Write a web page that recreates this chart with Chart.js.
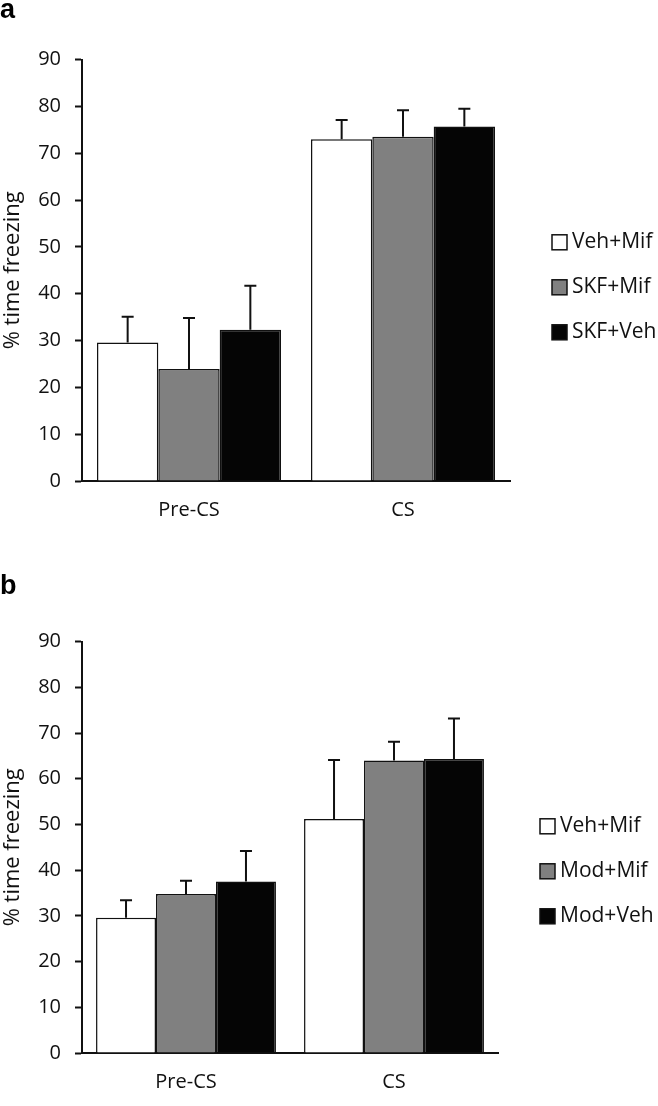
<!DOCTYPE html>
<html>
<head>
<meta charset="utf-8">
<script src="https://cdn.jsdelivr.net/npm/chart.js@4.4.1/dist/chart.umd.min.js"></script>
<style>
  body { margin: 0; background: #fff; }
  canvas { position: absolute; left: 0; }
  #chart-a { top: 0; }
  #chart-b { top: 553px; }
</style>
</head>
<body>
<canvas id="chart-a" width="658" height="521"></canvas>
<canvas id="chart-b" width="658" height="540"></canvas>
<script>
// data
const categories = ["Pre-CS", "CS"];

// panel a
const labelsA = ["Veh+Mif", "SKF+Mif", "SKF+Veh"];
const vehMifA = [29.6, 73.0];
const skfMifA = [23.9, 73.5];
const skfVehA = [32.3, 75.7];
const errVehMifA = [5.5, 4.1];
const errSkfMifA = [10.9, 5.7];
const errSkfVehA = [9.4, 3.8];

// panel b
const labelsB = ["Veh+Mif", "Mod+Mif", "Mod+Veh"];
const vehMifB = [29.6, 51.2];
const modMifB = [34.8, 64.0];
const modVehB = [37.5, 64.3];
const errVehMifB = [3.8, 12.9];
const errModMifB = [2.9, 4.1];
const errModVehB = [6.7, 8.9];

const yTicks = [0, 10, 20, 30, 40, 50, 60, 70, 80, 90];

const fills = ["#ffffff", "#808080", "#050505"];
const fontFam = "'Open Sans', sans-serif";

// upper error bars, drawn from the bar top
const errorBars = {
  id: "errorBars",
  afterDatasetsDraw(chart) {
    const ctx = chart.ctx;
    const yScale = chart.scales.y;
    ctx.save();
    ctx.strokeStyle = "#111";
    ctx.lineWidth = 2;
    chart.data.datasets.forEach((ds, i) => {
      const meta = chart.getDatasetMeta(i);
      meta.data.forEach((bar, j) => {
        const top = yScale.getPixelForValue(ds.data[j] + ds.errors[j]);
        ctx.beginPath();
        ctx.moveTo(bar.x, bar.y);
        ctx.lineTo(bar.x, top);
        ctx.moveTo(bar.x - 6, top);
        ctx.lineTo(bar.x + 6, top);
        ctx.stroke();
      });
    });
    ctx.restore();
  },
};

// legend at the right of the plot
const sideLegend = {
  id: "sideLegend",
  afterDraw(chart, args, opts) {
    const ctx = chart.ctx;
    const area = chart.chartArea;
    const x = area.right + opts.gap;
    const midY = (area.top + area.bottom) / 2 + opts.shift;
    const n = chart.data.datasets.length;
    ctx.save();
    ctx.font = "21px " + fontFam;
    ctx.textBaseline = "middle";
    ctx.fillStyle = "#111";
    chart.data.datasets.forEach((ds, i) => {
      const y = midY + (i - (n - 1) / 2) * 45;
      ctx.fillStyle = ds.backgroundColor;
      ctx.fillRect(x, y - 7.5, 15, 15);
      ctx.strokeStyle = "#111";
      ctx.lineWidth = 1.5;
      ctx.strokeRect(x, y - 7.5, 15, 15);
      ctx.fillStyle = "#111";
      ctx.fillText(ds.label, x + opts.textGap, y);
    });
    ctx.restore();
  },
};

function makeChart(id, letter, labels, values, errors, p) {
  const datasets = labels.map((lab, i) => ({
    label: lab,
    data: values[i],
    errors: errors[i],
    backgroundColor: fills[i],
    borderColor: "#111",
    borderWidth: 1.5,
    categoryPercentage: p.catPct,
    barPercentage: 1.0,
  }));

  const config = {
    type: "bar",
    data: { labels: categories, datasets: datasets },
    options: {
      responsive: false,
      animation: false,
      layout: { padding: { top: p.padTop, right: p.padRight, left: 0, bottom: 0 } },
      plugins: {
        legend: { display: false },
        tooltip: { enabled: false },
        title: {
          display: true,
          text: letter,
          align: "start",
          color: "#000",
          font: { family: "'Liberation Sans', Arial, sans-serif", size: 27, weight: "bold", lineHeight: 0.8 },
          padding: { top: 0, bottom: p.titleGap },
        },
        sideLegend: { gap: p.legendGap, textGap: 20, shift: p.legendShift },
      },
      scales: {
        x: {
          grid: { display: false, drawTicks: false },
          border: { color: "#111", width: 2 },
          ticks: { color: "#111", padding: 17, font: { family: fontFam, size: 20 } },
          afterFit: (scale) => { scale.height = 40; },
        },
        y: {
          min: 0,
          max: 90,
          afterBuildTicks: (scale) => { scale.ticks = yTicks.map((v) => ({ value: v })); },
          grid: { drawOnChartArea: false, tickLength: 7, tickWidth: 2, tickColor: "#111" },
          border: { color: "#111", width: 2 },
          ticks: { color: "#111", padding: 14, font: { family: fontFam, size: 20 } },
          title: {
            display: true,
            text: "% time freezing",
            color: "#111",
            font: { family: fontFam, size: 22 },
            padding: { top: 0, bottom: 0 },
          },
          afterFit: (scale) => { scale.width = 82; },
        },
      },
    },
    plugins: [errorBars, sideLegend],
  };
  return new Chart(document.getElementById(id), config);
}

makeChart("chart-a", "a", labelsA,
  [vehMifA, skfMifA, skfVehA],
  [errVehMifA, errSkfMifA, errSkfVehA],
  { catPct: 0.86, padTop: 0, padRight: 148, titleGap: 38, legendGap: 42, legendShift: 17 });

makeChart("chart-b", "b", labelsB,
  [vehMifB, modMifB, modVehB],
  [errVehMifB, errModMifB, errModVehB],
  { catPct: 0.865, padTop: 23, padRight: 160, titleGap: 44, legendGap: 42, legendShift: 24 });
</script>
</body>
</html>
